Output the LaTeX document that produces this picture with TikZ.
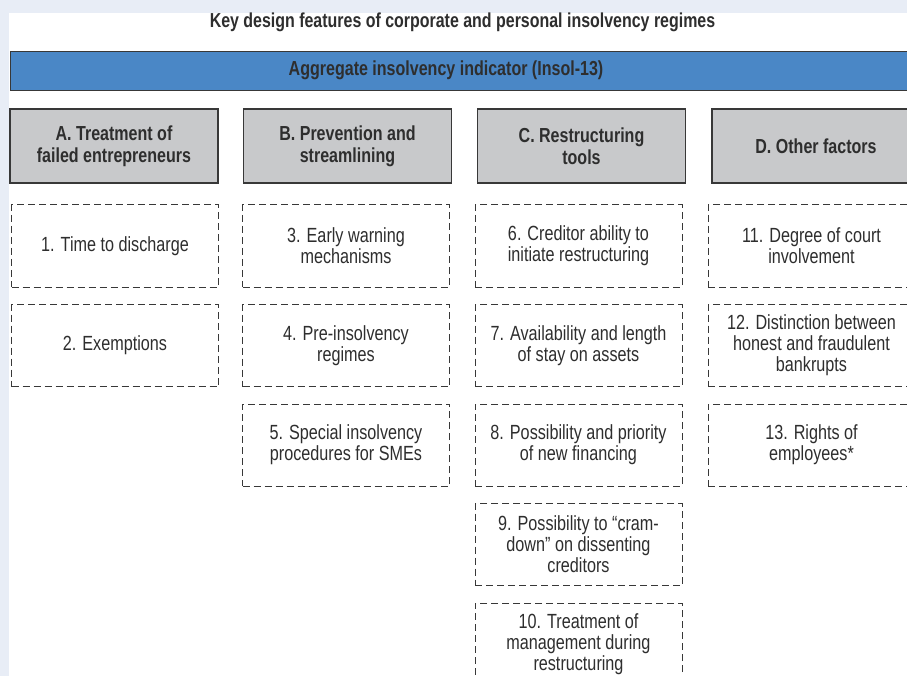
\documentclass[tikz,border=0pt]{standalone}
\usepackage{fontspec}
\setmainfont{Liberation Sans}[FakeStretch=0.79]
\usetikzlibrary{positioning}
\definecolor{cpage}{HTML}{E8EDF6}
\definecolor{cbar}{HTML}{4A87C6}
\definecolor{chead}{HTML}{C8C9CB}
\definecolor{cline}{HTML}{383838}
\definecolor{ctext}{HTML}{2E2E2E}

\begin{document}
\begin{tikzpicture}[
  x=1pt, y=-1pt,
  text=ctext,
  node distance=16.5pt,
  bold/.style={font=\fontsize{20.3}{22}\selectfont\bfseries},
  bar/.style={draw=cline, line width=1.3pt, fill=cbar, minimum height=39pt, inner sep=0pt},
  head/.style={bold, draw=cline, line width=1.3pt, fill=chead, align=center,
    minimum width=208pt, minimum height=74pt, inner sep=2pt},
  item/.style={draw=cline, line width=1pt, dash pattern=on 7pt off 4pt, align=center,
    font=\fontsize{20.5}{21}\selectfont, minimum width=207pt, minimum height=82pt, inner sep=2pt},
]
\useasboundingbox (0,0) rectangle (907,676);
\clip (0,0) rectangle (907,676);
\fill[cpage] (0,0) rectangle (907,676);
\fill[white] (9,13) rectangle (907,676);

% =================== title and indicator ===================
\node[bold, font=\fontsize{20.2}{22}\selectfont\bfseries] (title) at (462.5,22)
  {Key design features of corporate and personal insolvency regimes};
\node[bar, minimum width=930pt, anchor=north west] (agg) at (10,51) {};
\node[bold] (aggtext) at (446,70.5) {Aggregate insolvency indicator (Insol-13)};

% =================== column headers ===================
\node[head] (ha) at (114,146) {A. Treatment of\\ failed entrepreneurs};
\node[head] (hb) at (347.5,146) {B. Prevention and\\ streamlining};
\node[head] (hc) at (581.5,146) {C. Restructuring\\ tools};
\node[head] (hd) at (816,146) {D. Other factors};

% =================== A ===================
\node[item] (a1) at (115,246) {1. Time to discharge};
\node[item, below=of a1] (a2) {2. Exemptions};

% =================== B ===================
\node[item] (b3) at (346,246) {3. Early warning\\ mechanisms};
\node[item, below=of b3] (b4) {4. Pre-insolvency\\ regimes};
\node[item, below=of b4] (b5) {5. Special insolvency\\ procedures for SMEs};

% =================== C ===================
\node[item] (c6) at (578.5,246) {6. Creditor ability to\\ initiate restructuring};
\node[item, below=of c6] (c7) {7. Availability and length\\ of stay on assets};
\node[item, below=of c7] (c8) {8. Possibility and priority\\ of new financing};
\node[item, below=of c8] (c9) {9. Possibility to “cram-\\ down” on dissenting\\ creditors};
\node[item, below=of c9] (c10) {10. Treatment of\\ management during\\ restructuring};

% =================== D ===================
\node[item] (d11) at (811.5,246) {11. Degree of court\\ involvement};
\node[item, below=of d11] (d12) {12. Distinction between\\ honest and fraudulent\\ bankrupts};
\node[item, below=of d12] (d13) {13. Rights of\\ employees*};
\end{tikzpicture}
\end{document}
